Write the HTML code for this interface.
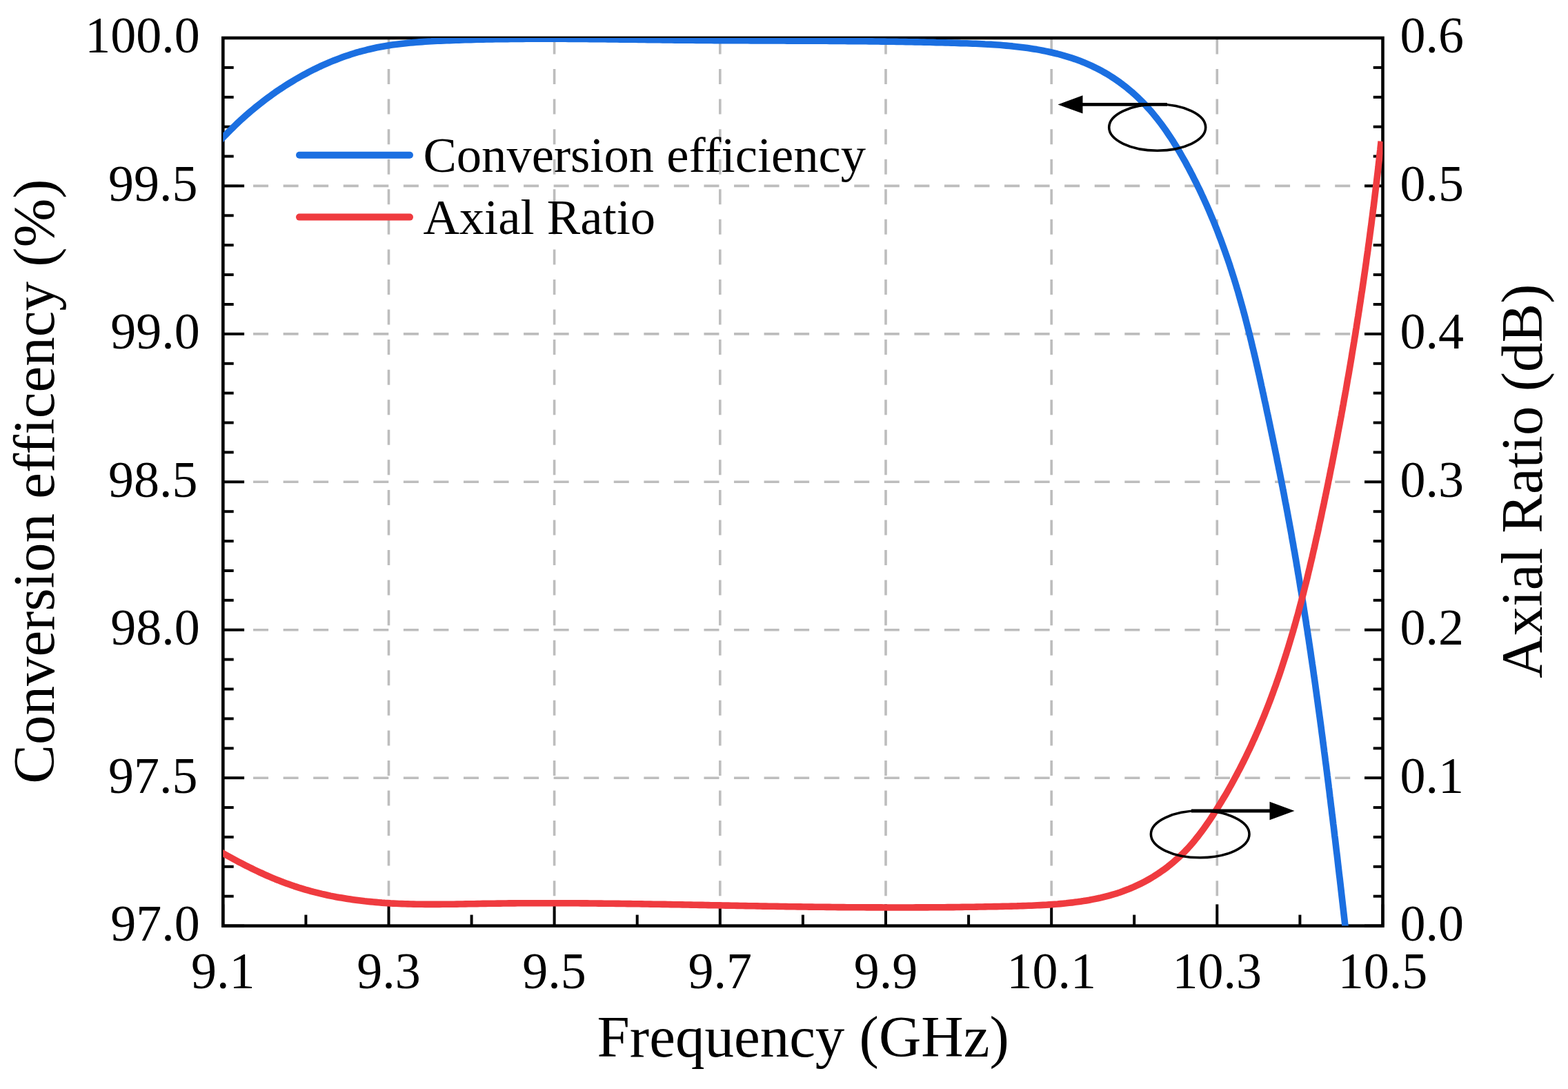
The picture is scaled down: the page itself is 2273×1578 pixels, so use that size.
<!DOCTYPE html>
<html><head><meta charset="utf-8"><title>Conversion efficiency and Axial Ratio</title>
<style>html,body{margin:0;padding:0;background:#fff;}body{width:2273px;height:1578px;overflow:hidden;}svg{display:block;}</style>
</head><body><div id="w">
<svg width="2273" height="1578" viewBox="0 0 2273 1578">
<defs><clipPath id="pc"><rect x="323.3" y="55.0" width="1681.2" height="1286.6"/></clipPath></defs>
<rect width="2273" height="1578" fill="#fff"/>
<g stroke="#bdbdbd" stroke-width="3.6" stroke-dasharray="22 21.56" fill="none"><line x1="563.5" y1="56.5" x2="563.5" y2="1341.6"/><line x1="803.6" y1="56.5" x2="803.6" y2="1341.6"/><line x1="1043.8" y1="56.5" x2="1043.8" y2="1341.6"/><line x1="1284.0" y1="56.5" x2="1284.0" y2="1341.6"/><line x1="1524.2" y1="56.5" x2="1524.2" y2="1341.6"/><line x1="1764.3" y1="56.5" x2="1764.3" y2="1341.6"/><line x1="323.5" y1="269.4" x2="2004.5" y2="269.4"/><line x1="323.5" y1="483.9" x2="2004.5" y2="483.9"/><line x1="323.5" y1="698.3" x2="2004.5" y2="698.3"/><line x1="323.5" y1="912.7" x2="2004.5" y2="912.7"/><line x1="323.5" y1="1127.2" x2="2004.5" y2="1127.2"/></g>
<g stroke="#000" stroke-width="4" fill="none"><line x1="323.3" y1="1341.6" x2="323.3" y2="1310.4"/><line x1="563.5" y1="1341.6" x2="563.5" y2="1310.4"/><line x1="803.6" y1="1341.6" x2="803.6" y2="1310.4"/><line x1="1043.8" y1="1341.6" x2="1043.8" y2="1310.4"/><line x1="1284.0" y1="1341.6" x2="1284.0" y2="1310.4"/><line x1="1524.2" y1="1341.6" x2="1524.2" y2="1310.4"/><line x1="1764.3" y1="1341.6" x2="1764.3" y2="1310.4"/><line x1="2004.5" y1="1341.6" x2="2004.5" y2="1310.4"/><line x1="443.4" y1="1341.6" x2="443.4" y2="1325.6"/><line x1="683.6" y1="1341.6" x2="683.6" y2="1325.6"/><line x1="923.7" y1="1341.6" x2="923.7" y2="1325.6"/><line x1="1163.9" y1="1341.6" x2="1163.9" y2="1325.6"/><line x1="1404.1" y1="1341.6" x2="1404.1" y2="1325.6"/><line x1="1644.2" y1="1341.6" x2="1644.2" y2="1325.6"/><line x1="1884.4" y1="1341.6" x2="1884.4" y2="1325.6"/><line x1="323.3" y1="55.0" x2="354.1" y2="55.0"/><line x1="2004.5" y1="55.0" x2="1978.0" y2="55.0"/><line x1="323.3" y1="97.9" x2="338.7" y2="97.9"/><line x1="2004.5" y1="97.9" x2="1990.7" y2="97.9"/><line x1="323.3" y1="140.8" x2="338.7" y2="140.8"/><line x1="2004.5" y1="140.8" x2="1990.7" y2="140.8"/><line x1="323.3" y1="183.7" x2="338.7" y2="183.7"/><line x1="2004.5" y1="183.7" x2="1990.7" y2="183.7"/><line x1="323.3" y1="226.5" x2="338.7" y2="226.5"/><line x1="2004.5" y1="226.5" x2="1990.7" y2="226.5"/><line x1="323.3" y1="269.4" x2="354.1" y2="269.4"/><line x1="2004.5" y1="269.4" x2="1978.0" y2="269.4"/><line x1="323.3" y1="312.3" x2="338.7" y2="312.3"/><line x1="2004.5" y1="312.3" x2="1990.7" y2="312.3"/><line x1="323.3" y1="355.2" x2="338.7" y2="355.2"/><line x1="2004.5" y1="355.2" x2="1990.7" y2="355.2"/><line x1="323.3" y1="398.1" x2="338.7" y2="398.1"/><line x1="2004.5" y1="398.1" x2="1990.7" y2="398.1"/><line x1="323.3" y1="441.0" x2="338.7" y2="441.0"/><line x1="2004.5" y1="441.0" x2="1990.7" y2="441.0"/><line x1="323.3" y1="483.9" x2="354.1" y2="483.9"/><line x1="2004.5" y1="483.9" x2="1978.0" y2="483.9"/><line x1="323.3" y1="526.8" x2="338.7" y2="526.8"/><line x1="2004.5" y1="526.8" x2="1990.7" y2="526.8"/><line x1="323.3" y1="569.6" x2="338.7" y2="569.6"/><line x1="2004.5" y1="569.6" x2="1990.7" y2="569.6"/><line x1="323.3" y1="612.5" x2="338.7" y2="612.5"/><line x1="2004.5" y1="612.5" x2="1990.7" y2="612.5"/><line x1="323.3" y1="655.4" x2="338.7" y2="655.4"/><line x1="2004.5" y1="655.4" x2="1990.7" y2="655.4"/><line x1="323.3" y1="698.3" x2="354.1" y2="698.3"/><line x1="2004.5" y1="698.3" x2="1978.0" y2="698.3"/><line x1="323.3" y1="741.2" x2="338.7" y2="741.2"/><line x1="2004.5" y1="741.2" x2="1990.7" y2="741.2"/><line x1="323.3" y1="784.1" x2="338.7" y2="784.1"/><line x1="2004.5" y1="784.1" x2="1990.7" y2="784.1"/><line x1="323.3" y1="827.0" x2="338.7" y2="827.0"/><line x1="2004.5" y1="827.0" x2="1990.7" y2="827.0"/><line x1="323.3" y1="869.8" x2="338.7" y2="869.8"/><line x1="2004.5" y1="869.8" x2="1990.7" y2="869.8"/><line x1="323.3" y1="912.7" x2="354.1" y2="912.7"/><line x1="2004.5" y1="912.7" x2="1978.0" y2="912.7"/><line x1="323.3" y1="955.6" x2="338.7" y2="955.6"/><line x1="2004.5" y1="955.6" x2="1990.7" y2="955.6"/><line x1="323.3" y1="998.5" x2="338.7" y2="998.5"/><line x1="2004.5" y1="998.5" x2="1990.7" y2="998.5"/><line x1="323.3" y1="1041.4" x2="338.7" y2="1041.4"/><line x1="2004.5" y1="1041.4" x2="1990.7" y2="1041.4"/><line x1="323.3" y1="1084.3" x2="338.7" y2="1084.3"/><line x1="2004.5" y1="1084.3" x2="1990.7" y2="1084.3"/><line x1="323.3" y1="1127.2" x2="354.1" y2="1127.2"/><line x1="2004.5" y1="1127.2" x2="1978.0" y2="1127.2"/><line x1="323.3" y1="1170.1" x2="338.7" y2="1170.1"/><line x1="2004.5" y1="1170.1" x2="1990.7" y2="1170.1"/><line x1="323.3" y1="1212.9" x2="338.7" y2="1212.9"/><line x1="2004.5" y1="1212.9" x2="1990.7" y2="1212.9"/><line x1="323.3" y1="1255.8" x2="338.7" y2="1255.8"/><line x1="2004.5" y1="1255.8" x2="1990.7" y2="1255.8"/><line x1="323.3" y1="1298.7" x2="338.7" y2="1298.7"/><line x1="2004.5" y1="1298.7" x2="1990.7" y2="1298.7"/><line x1="323.3" y1="1341.6" x2="354.1" y2="1341.6"/><line x1="2004.5" y1="1341.6" x2="1978.0" y2="1341.6"/></g>
<rect x="323.3" y="55.0" width="1681.2" height="1286.6" fill="none" stroke="#000" stroke-width="4.6"/>
<g clip-path="url(#pc)" fill="none" stroke-width="9.6" stroke-linejoin="round">
<path d="M297.4,225.8 L325.1,197.5 L328.2,194.3 L331.2,191.2 L334.4,188.1 L337.5,185.0 L340.7,181.9 L343.9,178.8 L347.1,175.8 L350.3,172.8 L353.6,169.9 L356.9,166.9 L360.3,164.0 L363.6,161.2 L367.0,158.3 L370.4,155.5 L373.9,152.7 L377.4,150.0 L380.9,147.2 L384.4,144.5 L387.9,141.9 L391.5,139.3 L395.1,136.7 L398.7,134.1 L402.4,131.6 L406.0,129.1 L409.7,126.7 L413.4,124.3 L417.2,121.9 L420.9,119.6 L424.7,117.3 L428.5,115.0 L432.3,112.8 L436.2,110.6 L440.0,108.5 L443.9,106.4 L447.8,104.3 L451.8,102.3 L455.7,100.3 L459.7,98.4 L463.6,96.5 L467.6,94.7 L471.7,92.9 L475.7,91.1 L479.7,89.4 L483.8,87.8 L487.9,86.2 L492.0,84.6 L496.1,83.1 L500.3,81.6 L504.4,80.2 L508.6,78.8 L512.7,77.5 L516.9,76.2 L521.1,75.0 L525.4,73.9 L529.6,72.8 L533.8,71.7 L538.1,70.7 L542.4,69.7 L546.7,68.8 L551.0,68.0 L555.3,67.2 L559.6,66.5 L563.9,65.8 L568.3,65.1 L572.6,64.5 L577.0,63.9 L581.3,63.4 L585.7,62.9 L590.1,62.4 L594.5,62.0 L598.8,61.6 L603.2,61.2 L607.6,60.9 L612.0,60.6 L616.5,60.3 L620.9,60.0 L625.3,59.8 L629.7,59.5 L634.1,59.3 L638.5,59.1 L643.0,58.9 L647.4,58.7 L651.8,58.6 L656.2,58.4 L660.7,58.3 L665.1,58.1 L669.5,58.0 L673.9,57.8 L678.4,57.7 L682.8,57.6 L687.2,57.5 L691.6,57.3 L696.0,57.2 L700.5,57.1 L704.9,57.0 L709.3,57.0 L713.7,56.9 L718.1,56.8 L722.5,56.7 L727.0,56.7 L731.4,56.6 L735.8,56.6 L740.2,56.5 L744.6,56.5 L749.1,56.4 L753.5,56.4 L757.9,56.4 L762.3,56.3 L766.7,56.3 L771.1,56.3 L775.5,56.3 L780.0,56.3 L784.4,56.3 L788.8,56.3 L793.2,56.3 L797.6,56.3 L802.0,56.3 L806.4,56.3 L810.8,56.3 L815.3,56.3 L819.7,56.3 L824.1,56.4 L828.5,56.4 L832.9,56.4 L837.3,56.4 L841.7,56.5 L846.1,56.5 L850.5,56.5 L855.0,56.6 L859.4,56.6 L863.8,56.7 L868.2,56.7 L872.6,56.8 L877.0,56.8 L881.4,56.9 L885.8,56.9 L890.2,57.0 L894.6,57.0 L899.0,57.1 L903.4,57.1 L907.8,57.2 L912.2,57.2 L916.7,57.3 L921.1,57.3 L925.5,57.4 L929.9,57.5 L934.3,57.5 L938.7,57.6 L943.1,57.6 L947.5,57.7 L951.9,57.7 L956.3,57.8 L960.7,57.9 L965.1,57.9 L969.5,58.0 L973.9,58.0 L978.3,58.1 L982.7,58.1 L987.1,58.2 L991.5,58.2 L995.9,58.2 L1000.3,58.3 L1004.7,58.3 L1009.1,58.4 L1013.5,58.4 L1017.9,58.4 L1022.3,58.5 L1026.7,58.5 L1031.1,58.5 L1035.5,58.6 L1039.9,58.6 L1044.3,58.6 L1048.7,58.7 L1053.1,58.7 L1057.5,58.7 L1061.9,58.7 L1066.3,58.8 L1070.7,58.8 L1075.1,58.8 L1079.5,58.8 L1083.9,58.8 L1088.3,58.9 L1092.7,58.9 L1097.1,58.9 L1101.5,58.9 L1105.9,58.9 L1110.3,58.9 L1114.7,59.0 L1119.1,59.0 L1123.5,59.0 L1127.9,59.0 L1132.3,59.0 L1136.7,59.0 L1141.1,59.1 L1145.5,59.1 L1149.9,59.1 L1154.3,59.1 L1158.7,59.1 L1163.1,59.2 L1167.5,59.2 L1171.9,59.2 L1176.3,59.2 L1180.7,59.2 L1185.1,59.3 L1189.5,59.3 L1193.9,59.3 L1198.3,59.3 L1202.7,59.4 L1207.1,59.4 L1211.5,59.4 L1215.9,59.5 L1220.3,59.5 L1224.7,59.5 L1229.1,59.6 L1233.5,59.6 L1237.9,59.6 L1242.4,59.7 L1246.8,59.7 L1251.2,59.8 L1255.6,59.8 L1260.0,59.9 L1264.4,59.9 L1268.8,60.0 L1273.2,60.0 L1277.6,60.1 L1282.0,60.1 L1286.4,60.2 L1290.9,60.3 L1295.3,60.3 L1299.7,60.4 L1304.1,60.5 L1308.5,60.5 L1312.9,60.6 L1317.3,60.7 L1321.7,60.8 L1326.2,60.9 L1330.6,60.9 L1335.0,61.0 L1339.4,61.1 L1343.8,61.2 L1348.3,61.3 L1352.7,61.4 L1357.1,61.6 L1361.5,61.7 L1365.9,61.8 L1370.4,61.9 L1374.8,62.0 L1379.2,62.1 L1383.6,62.3 L1388.1,62.4 L1392.5,62.6 L1396.9,62.7 L1401.3,62.8 L1405.8,63.0 L1410.2,63.2 L1414.6,63.3 L1419.0,63.5 L1423.5,63.7 L1427.9,64.0 L1432.3,64.2 L1436.7,64.4 L1441.2,64.7 L1445.6,65.0 L1450.0,65.3 L1454.4,65.7 L1458.8,66.1 L1463.2,66.5 L1467.6,66.9 L1472.0,67.4 L1476.4,67.9 L1480.8,68.4 L1485.1,69.0 L1489.5,69.6 L1493.9,70.2 L1498.2,70.9 L1502.6,71.6 L1506.9,72.4 L1511.3,73.2 L1515.6,74.1 L1519.9,75.0 L1524.2,76.0 L1528.5,77.0 L1532.8,78.0 L1537.1,79.2 L1541.3,80.3 L1545.5,81.6 L1549.7,82.9 L1553.9,84.2 L1558.1,85.6 L1562.2,87.1 L1566.3,88.6 L1570.4,90.2 L1574.4,91.9 L1578.4,93.6 L1582.4,95.4 L1586.4,97.3 L1590.3,99.2 L1594.2,101.3 L1598.0,103.3 L1601.8,105.5 L1605.6,107.7 L1609.3,110.0 L1613.0,112.4 L1616.6,114.8 L1620.2,117.3 L1623.8,119.8 L1627.3,122.4 L1630.7,125.1 L1634.2,127.8 L1637.5,130.6 L1640.9,133.4 L1644.1,136.3 L1647.4,139.3 L1650.6,142.3 L1653.7,145.4 L1656.8,148.5 L1659.8,151.6 L1662.8,154.9 L1665.8,158.1 L1668.7,161.4 L1671.5,164.8 L1674.3,168.2 L1677.1,171.6 L1679.8,175.1 L1682.5,178.6 L1685.1,182.1 L1687.7,185.7 L1690.2,189.3 L1692.7,193.0 L1695.2,196.7 L1697.7,200.4 L1700.1,204.1 L1702.4,207.9 L1704.8,211.6 L1707.1,215.4 L1709.4,219.3 L1711.6,223.1 L1713.8,227.0 L1716.0,230.8 L1718.2,234.7 L1720.3,238.6 L1722.4,242.5 L1724.5,246.4 L1726.6,250.4 L1728.6,254.3 L1730.6,258.3 L1732.6,262.2 L1734.6,266.2 L1736.5,270.2 L1738.5,274.1 L1740.4,278.1 L1742.2,282.1 L1744.1,286.1 L1745.9,290.1 L1747.8,294.2 L1749.6,298.2 L1751.3,302.2 L1753.1,306.3 L1754.8,310.3 L1756.5,314.4 L1758.2,318.4 L1759.9,322.5 L1761.5,326.6 L1763.2,330.7 L1764.8,334.8 L1766.4,338.9 L1767.9,343.0 L1769.5,347.1 L1771.0,351.2 L1772.5,355.4 L1774.0,359.5 L1775.5,363.6 L1777.0,367.8 L1778.4,371.9 L1779.9,376.1 L1781.3,380.3 L1782.7,384.4 L1784.0,388.6 L1785.4,392.8 L1786.7,397.0 L1788.1,401.2 L1789.4,405.4 L1790.7,409.6 L1792.0,413.8 L1793.2,418.0 L1794.5,422.2 L1795.7,426.4 L1796.9,430.6 L1798.1,434.9 L1799.3,439.1 L1800.5,443.4 L1801.7,447.6 L1802.8,451.8 L1804.0,456.1 L1805.1,460.3 L1806.2,464.6 L1807.3,468.9 L1808.4,473.1 L1809.5,477.4 L1810.6,481.7 L1811.7,485.9 L1812.7,490.2 L1813.8,494.5 L1814.8,498.8 L1815.8,503.1 L1816.9,507.4 L1817.9,511.7 L1818.9,515.9 L1819.9,520.2 L1820.9,524.5 L1821.9,528.8 L1822.9,533.1 L1823.8,537.4 L1824.8,541.7 L1825.8,546.0 L1826.7,550.4 L1827.7,554.7 L1828.6,559.0 L1829.6,563.3 L1830.5,567.6 L1831.5,571.9 L1832.4,576.2 L1833.3,580.5 L1834.3,584.8 L1835.2,589.1 L1836.1,593.5 L1837.0,597.8 L1838.0,602.1 L1838.9,606.4 L1839.8,610.7 L1840.7,615.0 L1841.6,619.4 L1842.5,623.7 L1843.4,628.0 L1844.3,632.3 L1845.2,636.6 L1846.1,640.9 L1847.0,645.3 L1847.9,649.6 L1848.8,653.9 L1849.7,658.2 L1850.6,662.5 L1851.4,666.9 L1852.3,671.2 L1853.2,675.5 L1854.0,679.8 L1854.9,684.1 L1855.8,688.5 L1856.6,692.8 L1857.5,697.1 L1858.3,701.4 L1859.2,705.8 L1860.0,710.1 L1860.9,714.4 L1861.7,718.8 L1862.5,723.1 L1863.3,727.4 L1864.2,731.7 L1865.0,736.1 L1865.8,740.4 L1866.6,744.7 L1867.4,749.1 L1868.2,753.4 L1869.0,757.7 L1869.8,762.1 L1870.6,766.4 L1871.4,770.7 L1872.2,775.1 L1872.9,779.4 L1873.7,783.8 L1874.5,788.1 L1875.2,792.4 L1876.0,796.8 L1876.8,801.1 L1877.5,805.5 L1878.3,809.8 L1879.0,814.1 L1879.7,818.5 L1880.5,822.8 L1881.2,827.2 L1881.9,831.5 L1882.7,835.9 L1883.4,840.2 L1884.1,844.6 L1884.8,848.9 L1885.5,853.3 L1886.3,857.6 L1887.0,862.0 L1887.7,866.3 L1888.4,870.7 L1889.1,875.0 L1889.8,879.4 L1890.4,883.7 L1891.1,888.1 L1891.8,892.4 L1892.5,896.8 L1893.2,901.1 L1893.8,905.5 L1894.5,909.8 L1895.2,914.2 L1895.8,918.6 L1896.5,922.9 L1897.2,927.3 L1897.8,931.6 L1898.5,936.0 L1899.1,940.3 L1899.8,944.7 L1900.4,949.1 L1901.0,953.4 L1901.7,957.8 L1902.3,962.2 L1903.0,966.5 L1903.6,970.9 L1904.2,975.2 L1904.8,979.6 L1905.5,984.0 L1906.1,988.3 L1906.7,992.7 L1907.3,997.1 L1907.9,1001.4 L1908.5,1005.8 L1909.1,1010.2 L1909.7,1014.5 L1910.3,1018.9 L1910.9,1023.3 L1911.5,1027.6 L1912.1,1032.0 L1912.7,1036.4 L1913.3,1040.7 L1913.9,1045.1 L1914.5,1049.5 L1915.1,1053.8 L1915.6,1058.2 L1916.2,1062.6 L1916.8,1066.9 L1917.4,1071.3 L1917.9,1075.7 L1918.5,1080.1 L1919.1,1084.4 L1919.6,1088.8 L1920.2,1093.2 L1920.8,1097.5 L1921.3,1101.9 L1921.9,1106.3 L1922.5,1110.7 L1923.0,1115.0 L1923.6,1119.4 L1924.1,1123.8 L1924.7,1128.2 L1925.2,1132.5 L1925.8,1136.9 L1926.3,1141.3 L1926.9,1145.7 L1927.4,1150.0 L1927.9,1154.4 L1928.5,1158.8 L1929.0,1163.2 L1929.5,1167.5 L1930.1,1171.9 L1930.6,1176.3 L1931.1,1180.7 L1931.7,1185.0 L1932.2,1189.4 L1932.7,1193.8 L1933.3,1198.2 L1933.8,1202.5 L1934.3,1206.9 L1934.8,1211.3 L1935.4,1215.7 L1935.9,1220.1 L1936.4,1224.4 L1936.9,1228.8 L1937.4,1233.2 L1938.0,1237.6 L1938.5,1241.9 L1939.0,1246.3 L1939.5,1250.7 L1940.0,1255.1 L1940.5,1259.5 L1941.0,1263.8 L1941.5,1268.2 L1942.1,1272.6 L1942.6,1277.0 L1943.1,1281.4 L1943.6,1285.7 L1944.1,1290.1 L1944.6,1294.5 L1945.1,1298.9 L1945.6,1303.2 L1946.1,1307.6 L1946.6,1312.0 L1947.1,1316.4 L1947.6,1320.8 L1948.1,1325.1 L1948.6,1329.5 L1949.1,1333.9 L1949.6,1338.3 L1950.1,1342.7 L1950.6,1347.0 L1955.2,1386.5" stroke="#1b6fe1"/>
<path d="M291.0,1218.6 L324.0,1236.9 L327.6,1238.9 L331.3,1240.9 L335.0,1242.9 L338.6,1244.9 L342.3,1246.9 L346.1,1248.9 L349.8,1250.8 L353.5,1252.8 L357.2,1254.7 L361.0,1256.5 L364.8,1258.4 L368.5,1260.2 L372.3,1262.0 L376.1,1263.8 L379.9,1265.5 L383.8,1267.3 L387.6,1269.0 L391.4,1270.6 L395.3,1272.3 L399.2,1273.9 L403.1,1275.4 L407.0,1277.0 L410.9,1278.5 L414.8,1279.9 L418.7,1281.3 L422.7,1282.7 L426.6,1284.1 L430.6,1285.4 L434.6,1286.7 L438.6,1287.9 L442.6,1289.1 L446.6,1290.2 L450.6,1291.3 L454.6,1292.4 L458.7,1293.4 L462.8,1294.4 L466.8,1295.4 L470.9,1296.3 L475.0,1297.2 L479.1,1298.1 L483.2,1298.9 L487.3,1299.7 L491.4,1300.4 L495.5,1301.1 L499.6,1301.8 L503.8,1302.5 L507.9,1303.1 L512.0,1303.7 L516.2,1304.3 L520.3,1304.8 L524.5,1305.3 L528.6,1305.8 L532.8,1306.2 L536.9,1306.6 L541.1,1307.0 L545.3,1307.4 L549.4,1307.7 L553.6,1308.1 L557.8,1308.4 L561.9,1308.6 L566.1,1308.9 L570.3,1309.1 L574.4,1309.3 L578.6,1309.5 L582.8,1309.6 L587.0,1309.8 L591.1,1309.9 L595.3,1310.0 L599.5,1310.1 L603.7,1310.2 L607.9,1310.3 L612.0,1310.3 L616.2,1310.4 L620.4,1310.4 L624.6,1310.4 L628.8,1310.4 L633.0,1310.4 L637.2,1310.4 L641.4,1310.3 L645.5,1310.3 L649.7,1310.3 L653.9,1310.2 L658.1,1310.2 L662.3,1310.1 L666.5,1310.0 L670.7,1310.0 L674.9,1309.9 L679.1,1309.8 L683.3,1309.7 L687.5,1309.7 L691.7,1309.6 L695.8,1309.5 L700.0,1309.4 L704.2,1309.4 L708.4,1309.3 L712.6,1309.2 L716.8,1309.2 L721.0,1309.1 L725.2,1309.1 L729.4,1309.0 L733.6,1309.0 L737.8,1308.9 L742.0,1308.9 L746.2,1308.9 L750.3,1308.8 L754.5,1308.8 L758.7,1308.8 L762.9,1308.8 L767.1,1308.7 L771.3,1308.7 L775.5,1308.7 L779.7,1308.7 L783.9,1308.7 L788.1,1308.7 L792.3,1308.7 L796.4,1308.7 L800.6,1308.7 L804.8,1308.7 L809.0,1308.7 L813.2,1308.7 L817.4,1308.7 L821.6,1308.7 L825.8,1308.8 L830.0,1308.8 L834.1,1308.8 L838.3,1308.8 L842.5,1308.9 L846.7,1308.9 L850.9,1308.9 L855.1,1309.0 L859.3,1309.0 L863.5,1309.0 L867.6,1309.1 L871.8,1309.1 L876.0,1309.2 L880.2,1309.2 L884.4,1309.3 L888.6,1309.3 L892.8,1309.4 L896.9,1309.4 L901.1,1309.5 L905.3,1309.5 L909.5,1309.6 L913.7,1309.6 L917.9,1309.7 L922.1,1309.8 L926.2,1309.8 L930.4,1309.9 L934.6,1310.0 L938.8,1310.0 L943.0,1310.1 L947.2,1310.2 L951.4,1310.2 L955.5,1310.3 L959.7,1310.4 L963.9,1310.4 L968.1,1310.5 L972.3,1310.6 L976.5,1310.7 L980.6,1310.7 L984.8,1310.8 L989.0,1310.9 L993.2,1311.0 L997.4,1311.0 L1001.6,1311.1 L1005.7,1311.2 L1009.9,1311.3 L1014.1,1311.4 L1018.3,1311.4 L1022.5,1311.5 L1026.7,1311.6 L1030.8,1311.7 L1035.0,1311.7 L1039.2,1311.8 L1043.4,1311.9 L1047.6,1312.0 L1051.8,1312.1 L1055.9,1312.1 L1060.1,1312.2 L1064.3,1312.3 L1068.5,1312.4 L1072.7,1312.5 L1076.8,1312.5 L1081.0,1312.6 L1085.2,1312.7 L1089.4,1312.8 L1093.6,1312.8 L1097.7,1312.9 L1101.9,1313.0 L1106.1,1313.1 L1110.3,1313.1 L1114.5,1313.2 L1118.7,1313.3 L1122.8,1313.3 L1127.0,1313.4 L1131.2,1313.5 L1135.4,1313.5 L1139.6,1313.6 L1143.7,1313.7 L1147.9,1313.7 L1152.1,1313.8 L1156.3,1313.9 L1160.5,1313.9 L1164.6,1314.0 L1168.8,1314.0 L1173.0,1314.1 L1177.2,1314.1 L1181.4,1314.2 L1185.5,1314.2 L1189.7,1314.3 L1193.9,1314.3 L1198.1,1314.4 L1202.3,1314.4 L1206.4,1314.5 L1210.6,1314.5 L1214.8,1314.6 L1219.0,1314.6 L1223.2,1314.6 L1227.3,1314.7 L1231.5,1314.7 L1235.7,1314.7 L1239.9,1314.8 L1244.1,1314.8 L1248.2,1314.8 L1252.4,1314.8 L1256.6,1314.9 L1260.8,1314.9 L1265.0,1314.9 L1269.1,1314.9 L1273.3,1314.9 L1277.5,1314.9 L1281.7,1315.0 L1285.9,1315.0 L1290.0,1315.0 L1294.2,1315.0 L1298.4,1315.0 L1302.6,1315.0 L1306.8,1315.0 L1311.0,1315.0 L1315.1,1315.0 L1319.3,1315.0 L1323.5,1315.0 L1327.7,1314.9 L1331.9,1314.9 L1336.1,1314.9 L1340.2,1314.9 L1344.4,1314.9 L1348.6,1314.8 L1352.8,1314.8 L1357.0,1314.8 L1361.2,1314.8 L1365.4,1314.7 L1369.5,1314.7 L1373.7,1314.6 L1377.9,1314.6 L1382.1,1314.6 L1386.3,1314.5 L1390.5,1314.5 L1394.7,1314.4 L1398.9,1314.3 L1403.0,1314.3 L1407.2,1314.2 L1411.4,1314.2 L1415.6,1314.1 L1419.8,1314.0 L1424.0,1314.0 L1428.2,1313.9 L1432.4,1313.8 L1436.6,1313.7 L1440.8,1313.6 L1445.0,1313.6 L1449.1,1313.5 L1453.3,1313.4 L1457.5,1313.3 L1461.7,1313.2 L1465.9,1313.1 L1470.1,1313.0 L1474.3,1312.9 L1478.5,1312.7 L1482.7,1312.6 L1486.9,1312.5 L1491.1,1312.3 L1495.3,1312.2 L1499.5,1312.0 L1503.7,1311.8 L1507.9,1311.6 L1512.1,1311.4 L1516.3,1311.2 L1520.5,1310.9 L1524.6,1310.6 L1528.8,1310.3 L1533.0,1310.0 L1537.2,1309.6 L1541.4,1309.2 L1545.6,1308.8 L1549.8,1308.3 L1554.0,1307.9 L1558.1,1307.3 L1562.3,1306.8 L1566.5,1306.2 L1570.7,1305.6 L1574.8,1304.9 L1579.0,1304.2 L1583.1,1303.4 L1587.2,1302.6 L1591.4,1301.8 L1595.5,1300.9 L1599.6,1299.9 L1603.6,1298.9 L1607.7,1297.8 L1611.7,1296.7 L1615.7,1295.5 L1619.7,1294.3 L1623.7,1293.0 L1627.6,1291.6 L1631.5,1290.1 L1635.4,1288.6 L1639.2,1287.0 L1643.1,1285.4 L1646.8,1283.7 L1650.6,1281.9 L1654.3,1280.1 L1658.0,1278.2 L1661.7,1276.2 L1665.3,1274.2 L1668.9,1272.1 L1672.4,1270.0 L1675.9,1267.7 L1679.4,1265.5 L1682.8,1263.1 L1686.2,1260.8 L1689.6,1258.3 L1692.9,1255.8 L1696.1,1253.2 L1699.4,1250.6 L1702.5,1247.9 L1705.6,1245.2 L1708.7,1242.4 L1711.8,1239.5 L1714.7,1236.6 L1717.7,1233.7 L1720.6,1230.7 L1723.4,1227.6 L1726.2,1224.5 L1728.9,1221.3 L1731.6,1218.1 L1734.2,1214.8 L1736.8,1211.6 L1739.4,1208.2 L1741.9,1204.9 L1744.4,1201.5 L1746.9,1198.0 L1749.3,1194.6 L1751.7,1191.1 L1754.1,1187.6 L1756.4,1184.1 L1758.7,1180.6 L1761.0,1177.0 L1763.2,1173.5 L1765.5,1169.9 L1767.7,1166.3 L1769.9,1162.7 L1772.1,1159.1 L1774.2,1155.5 L1776.4,1151.9 L1778.5,1148.3 L1780.6,1144.6 L1782.6,1141.0 L1784.7,1137.3 L1786.7,1133.7 L1788.7,1130.0 L1790.7,1126.3 L1792.7,1122.6 L1794.6,1118.9 L1796.6,1115.2 L1798.5,1111.5 L1800.4,1107.8 L1802.3,1104.0 L1804.1,1100.3 L1806.0,1096.6 L1807.8,1092.8 L1809.6,1089.0 L1811.4,1085.3 L1813.2,1081.5 L1814.9,1077.7 L1816.6,1073.9 L1818.4,1070.1 L1820.1,1066.3 L1821.7,1062.5 L1823.4,1058.7 L1825.1,1054.8 L1826.7,1051.0 L1828.3,1047.2 L1829.9,1043.3 L1831.5,1039.5 L1833.1,1035.6 L1834.6,1031.7 L1836.2,1027.8 L1837.7,1024.0 L1839.2,1020.1 L1840.7,1016.2 L1842.2,1012.3 L1843.6,1008.4 L1845.1,1004.5 L1846.5,1000.5 L1847.9,996.6 L1849.4,992.7 L1850.7,988.8 L1852.1,984.8 L1853.5,980.9 L1854.9,976.9 L1856.2,973.0 L1857.5,969.0 L1858.8,965.0 L1860.1,961.1 L1861.4,957.1 L1862.7,953.1 L1864.0,949.1 L1865.2,945.1 L1866.5,941.1 L1867.7,937.1 L1868.9,933.1 L1870.1,929.1 L1871.3,925.1 L1872.5,921.1 L1873.7,917.1 L1874.9,913.1 L1876.0,909.0 L1877.2,905.0 L1878.3,901.0 L1879.4,896.9 L1880.6,892.9 L1881.7,888.9 L1882.8,884.8 L1883.8,880.8 L1884.9,876.7 L1886.0,872.7 L1887.1,868.6 L1888.1,864.5 L1889.2,860.5 L1890.2,856.4 L1891.2,852.3 L1892.2,848.3 L1893.3,844.2 L1894.3,840.1 L1895.3,836.0 L1896.2,832.0 L1897.2,827.9 L1898.2,823.8 L1899.2,819.7 L1900.1,815.6 L1901.1,811.5 L1902.1,807.4 L1903.0,803.3 L1903.9,799.2 L1904.9,795.2 L1905.8,791.1 L1906.7,787.0 L1907.6,782.9 L1908.5,778.8 L1909.5,774.7 L1910.4,770.6 L1911.3,766.5 L1912.1,762.4 L1913.0,758.3 L1913.9,754.2 L1914.8,750.1 L1915.7,745.9 L1916.5,741.8 L1917.4,737.7 L1918.3,733.6 L1919.2,729.5 L1920.0,725.4 L1920.9,721.3 L1921.7,717.2 L1922.6,713.1 L1923.4,709.0 L1924.3,704.9 L1925.1,700.8 L1925.9,696.7 L1926.8,692.6 L1927.6,688.5 L1928.4,684.4 L1929.2,680.3 L1930.1,676.2 L1930.9,672.1 L1931.7,668.0 L1932.5,663.9 L1933.3,659.8 L1934.1,655.7 L1934.9,651.6 L1935.7,647.5 L1936.5,643.3 L1937.3,639.2 L1938.1,635.1 L1938.9,631.0 L1939.6,626.9 L1940.4,622.8 L1941.2,618.7 L1942.0,614.6 L1942.7,610.5 L1943.5,606.4 L1944.3,602.3 L1945.0,598.2 L1945.8,594.1 L1946.5,589.9 L1947.3,585.8 L1948.0,581.7 L1948.7,577.6 L1949.5,573.5 L1950.2,569.4 L1951.0,565.3 L1951.7,561.2 L1952.4,557.1 L1953.1,552.9 L1953.8,548.8 L1954.6,544.7 L1955.3,540.6 L1956.0,536.5 L1956.7,532.4 L1957.4,528.2 L1958.1,524.1 L1958.8,520.0 L1959.5,515.9 L1960.1,511.8 L1960.8,507.7 L1961.5,503.5 L1962.2,499.4 L1962.9,495.3 L1963.5,491.2 L1964.2,487.1 L1964.9,482.9 L1965.5,478.8 L1966.2,474.7 L1966.8,470.6 L1967.5,466.4 L1968.1,462.3 L1968.8,458.2 L1969.4,454.1 L1970.1,449.9 L1970.7,445.8 L1971.3,441.7 L1972.0,437.5 L1972.6,433.4 L1973.2,429.3 L1973.8,425.1 L1974.5,421.0 L1975.1,416.9 L1975.7,412.7 L1976.3,408.6 L1976.9,404.5 L1977.5,400.3 L1978.1,396.2 L1978.7,392.1 L1979.3,387.9 L1979.9,383.8 L1980.5,379.6 L1981.0,375.5 L1981.6,371.3 L1982.2,367.2 L1982.8,363.1 L1983.3,358.9 L1983.9,354.8 L1984.5,350.6 L1985.0,346.5 L1985.6,342.3 L1986.1,338.2 L1986.7,334.0 L1987.2,329.9 L1987.8,325.7 L1988.3,321.6 L1988.8,317.4 L1989.4,313.2 L1989.9,309.1 L1990.4,304.9 L1991.0,300.8 L1991.5,296.6 L1992.0,292.4 L1992.5,288.3 L1993.0,284.1 L1993.5,279.9 L1994.0,275.8 L1994.5,271.6 L1995.0,267.4 L1995.5,263.3 L1996.0,259.1 L1996.5,254.9 L1997.0,250.8 L1997.5,246.6 L1998.0,242.4 L1998.4,238.2 L1998.9,234.0 L1999.4,229.9 L1999.8,225.7 L2000.3,221.5 L2000.8,217.3 L2001.2,213.1 L2001.7,208.9 L2002.1,204.8" stroke="#ef3b3f"/>
</g>
<ellipse cx="1677.7" cy="184.6" rx="70.0" ry="33.6" fill="none" stroke="#000" stroke-width="3.6"/><line x1="1692" y1="151.4" x2="1565" y2="151.4" stroke="#000" stroke-width="4.8"/>
<polygon points="1533.5,151.4 1569.5,138.2 1569.5,164.6" fill="#000"/>
<ellipse cx="1739.7" cy="1208.8" rx="71.3" ry="34.0" fill="none" stroke="#000" stroke-width="3.6"/><line x1="1727" y1="1175.0" x2="1845" y2="1175.0" stroke="#000" stroke-width="4.8"/>
<polygon points="1876.5,1175 1840.5,1161.8 1840.5,1188.2" fill="#000"/>
<g stroke-width="10" stroke-linecap="round"><line x1="434" y1="224.8" x2="594" y2="224.8" stroke="#1b6fe1"/><line x1="434" y1="314.6" x2="594" y2="314.6" stroke="#ef3b3f"/></g>
<g font-family="'Liberation Serif','Times New Roman',serif" font-size="72.6" fill="#000"><text x="613.4" y="249">Conversion efficiency</text><text x="613.4" y="339.3">Axial Ratio</text></g>
<g font-family="'Liberation Serif','Times New Roman',serif" font-size="74" fill="#000"><text x="123.3" y="76.3">100.0</text><text x="157.0" y="290.7">99.5</text><text x="160.3" y="505.2">99.0</text><text x="157.0" y="719.6">98.5</text><text x="160.3" y="934.0">98.0</text><text x="157.0" y="1148.5">97.5</text><text x="160.3" y="1362.9">97.0</text><text x="2029.4" y="76.3">0.6</text><text x="2029.4" y="290.7">0.5</text><text x="2029.4" y="505.2">0.4</text><text x="2029.4" y="719.6">0.3</text><text x="2029.4" y="934.0">0.2</text><text x="2029.4" y="1148.5">0.1</text><text x="2029.4" y="1362.9">0.0</text><text x="323.3" y="1432.3" text-anchor="middle">9.1</text><text x="563.5" y="1432.3" text-anchor="middle">9.3</text><text x="803.6" y="1432.3" text-anchor="middle">9.5</text><text x="1043.8" y="1432.3" text-anchor="middle">9.7</text><text x="1284.0" y="1432.3" text-anchor="middle">9.9</text><text x="1524.2" y="1432.3" text-anchor="middle">10.1</text><text x="1764.3" y="1432.3" text-anchor="middle">10.3</text><text x="2004.5" y="1432.3" text-anchor="middle">10.5</text></g>
<text x="865.6" y="1531.0" font-family="'Liberation Serif','Times New Roman',serif" font-size="85" fill="#000">Frequency (GHz)</text>
<text transform="translate(77.6,1135.8) rotate(-90)" font-family="'Liberation Serif','Times New Roman',serif" font-size="85" fill="#000">Conversion efficency (%)</text>
<text transform="translate(2234.6,982.8) rotate(-90)" font-family="'Liberation Serif','Times New Roman',serif" font-size="85" fill="#000">Axial Ratio (dB)</text>
</svg>
</div></body></html>
